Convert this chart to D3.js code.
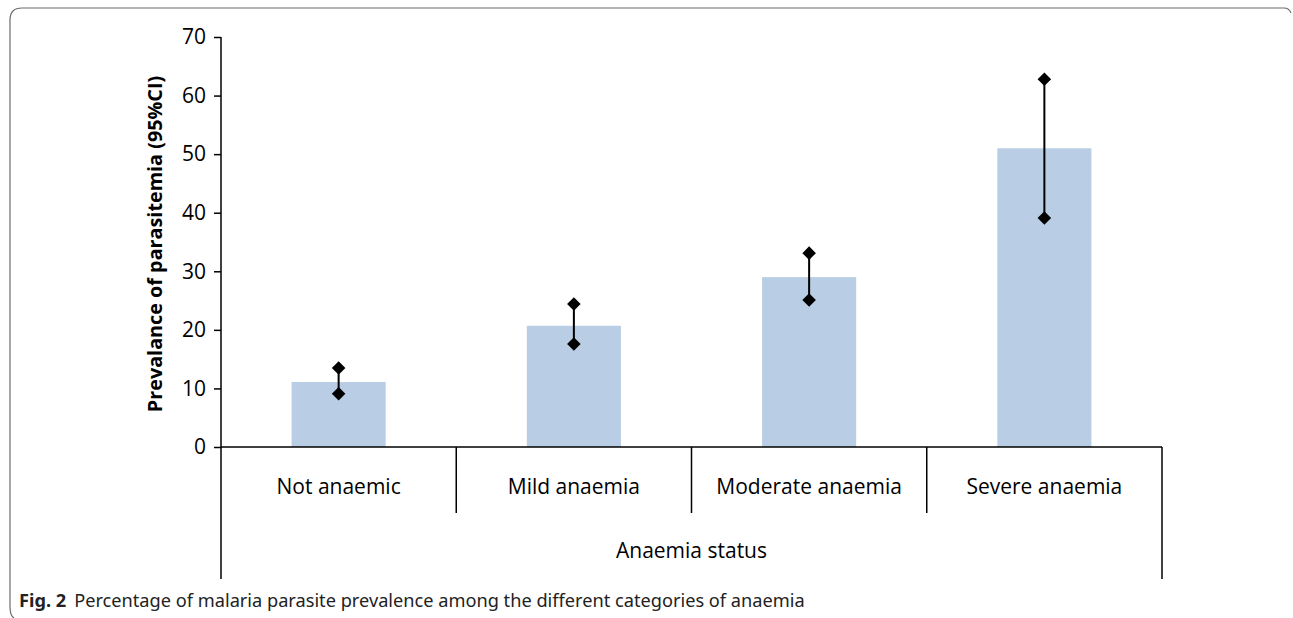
<!DOCTYPE html>
<html>
<head>
<meta charset="utf-8">
<script src="https://cdn.jsdelivr.net/npm/d3@7"></script>
<style>
  html, body { margin: 0; padding: 0; background: #fff; }
  svg { display: block; }
</style>
</head>
<body>
<svg id="chart" width="1293" height="618"></svg>
<script>
const categories = ["Not anaemic", "Mild anaemia", "Moderate anaemia", "Severe anaemia"];
const prevalence = [11.1, 20.7, 29.0, 51.0];
const ciLower = [9.1, 17.6, 25.1, 39.1];
const ciUpper = [13.5, 24.4, 33.1, 62.8];
const yTicks = [0, 10, 20, 30, 40, 50, 60, 70];
const yTitle = "Prevalance of parasitemia (95%CI)";
const xTitle = "Anaemia status";
const captionBold = "Fig. 2";
const captionText = "Percentage of malaria parasite prevalence among the different categories of anaemia";

const svg = d3.select("#chart");
const plotLeft = 221, plotRight = 1162, plotTop = 37, plotBase = 447;

// Frame
svg.append("path")
  .attr("d", "M10,606 L10,20 Q10,8 22,8 L1284,8 Q1289,8 1291,13")
  .attr("fill", "none").attr("stroke", "#6b6b6b").attr("stroke-width", 1.2);
svg.append("path")
  .attr("d", "M10,606 Q10,616 14,618")
  .attr("fill", "none").attr("stroke", "#6b6b6b").attr("stroke-width", 1.2);

const x = d3.scaleBand().domain(categories).range([plotLeft, plotRight]).padding(0);
const xBar = d3.scaleBand().domain(categories).range([plotLeft, plotRight]).paddingInner(0.6).paddingOuter(0.3);
const y = d3.scaleLinear().domain([0, 70]).range([plotBase, plotTop]);

const font = "'Open Sans', sans-serif";

// Bars
svg.append("g").selectAll("rect").data(categories).join("rect")
  .attr("x", d => xBar(d))
  .attr("width", xBar.bandwidth())
  .attr("y", (d, i) => y(prevalence[i]))
  .attr("height", (d, i) => y(0) - y(prevalence[i]))
  .attr("fill", "#b9cde5");

// Y axis
const yAxis = d3.axisLeft(y).tickValues(yTicks).tickSize(7).tickPadding(8);
const gy = svg.append("g").attr("transform", `translate(${plotLeft},0)`).call(yAxis);
gy.select(".domain").attr("stroke", "#000").attr("stroke-width", 1.5).attr("d", `M0,${plotTop}V${plotBase}`);
gy.selectAll(".tick line").attr("stroke", "#000").attr("stroke-width", 1.5);
gy.selectAll(".tick text").attr("font-family", font).attr("font-size", 21).attr("fill", "#000");

// X axis line
svg.append("line").attr("x1", plotLeft).attr("x2", plotRight).attr("y1", y(0)).attr("y2", y(0))
  .attr("stroke", "#000").attr("stroke-width", 1.5);

// Category separators
const seps = categories.map(c => x(c)).concat([plotRight]);
svg.append("g").selectAll("line").data(seps).join("line")
  .attr("x1", d => d).attr("x2", d => d)
  .attr("y1", y(0))
  .attr("y2", (d, i) => (i === 0 || i === seps.length - 1) ? 579 : 513)
  .attr("stroke", "#000").attr("stroke-width", 1.5);

// Category labels
svg.append("g").selectAll("text").data(categories).join("text")
  .attr("x", d => x(d) + x.bandwidth() / 2)
  .attr("y", 494)
  .attr("text-anchor", "middle")
  .attr("font-family", font).attr("font-size", 21).attr("fill", "#000")
  .text(d => d);

// Error bars
const eb = svg.append("g");
eb.selectAll("line").data(categories).join("line")
  .attr("x1", d => x(d) + x.bandwidth() / 2)
  .attr("x2", d => x(d) + x.bandwidth() / 2)
  .attr("y1", (d, i) => y(ciLower[i]))
  .attr("y2", (d, i) => y(ciUpper[i]))
  .attr("stroke", "#000").attr("stroke-width", 2);
const diamond = d3.symbol().type(d3.symbolSquare).size(92);
const pts = [];
categories.forEach((c, i) => { pts.push([c, ciLower[i]]); pts.push([c, ciUpper[i]]); });
eb.selectAll("path").data(pts).join("path")
  .attr("d", diamond)
  .attr("transform", d => `translate(${x(d[0]) + x.bandwidth() / 2},${y(d[1])}) rotate(45)`)
  .attr("fill", "#000");

// Axis titles
svg.append("text")
  .attr("transform", `translate(162,${(plotTop + plotBase) / 2 + 2}) rotate(-90)`)
  .attr("text-anchor", "middle")
  .attr("font-family", font).attr("font-weight", "bold").attr("font-size", 19.8).attr("fill", "#000")
  .text(yTitle);

svg.append("text")
  .attr("x", (plotLeft + plotRight) / 2).attr("y", 558)
  .attr("text-anchor", "middle")
  .attr("font-family", font).attr("font-size", 21).attr("fill", "#000")
  .text(xTitle);

// Caption
const cap = svg.append("text").attr("x", 19).attr("y", 607)
  .attr("font-family", "'Noto Sans', sans-serif").attr("font-size", 18.2).attr("fill", "#222");
cap.append("tspan").attr("font-weight", "bold").text(captionBold);
cap.append("tspan").attr("dx", 8).text(captionText);
</script>
</body>
</html>
